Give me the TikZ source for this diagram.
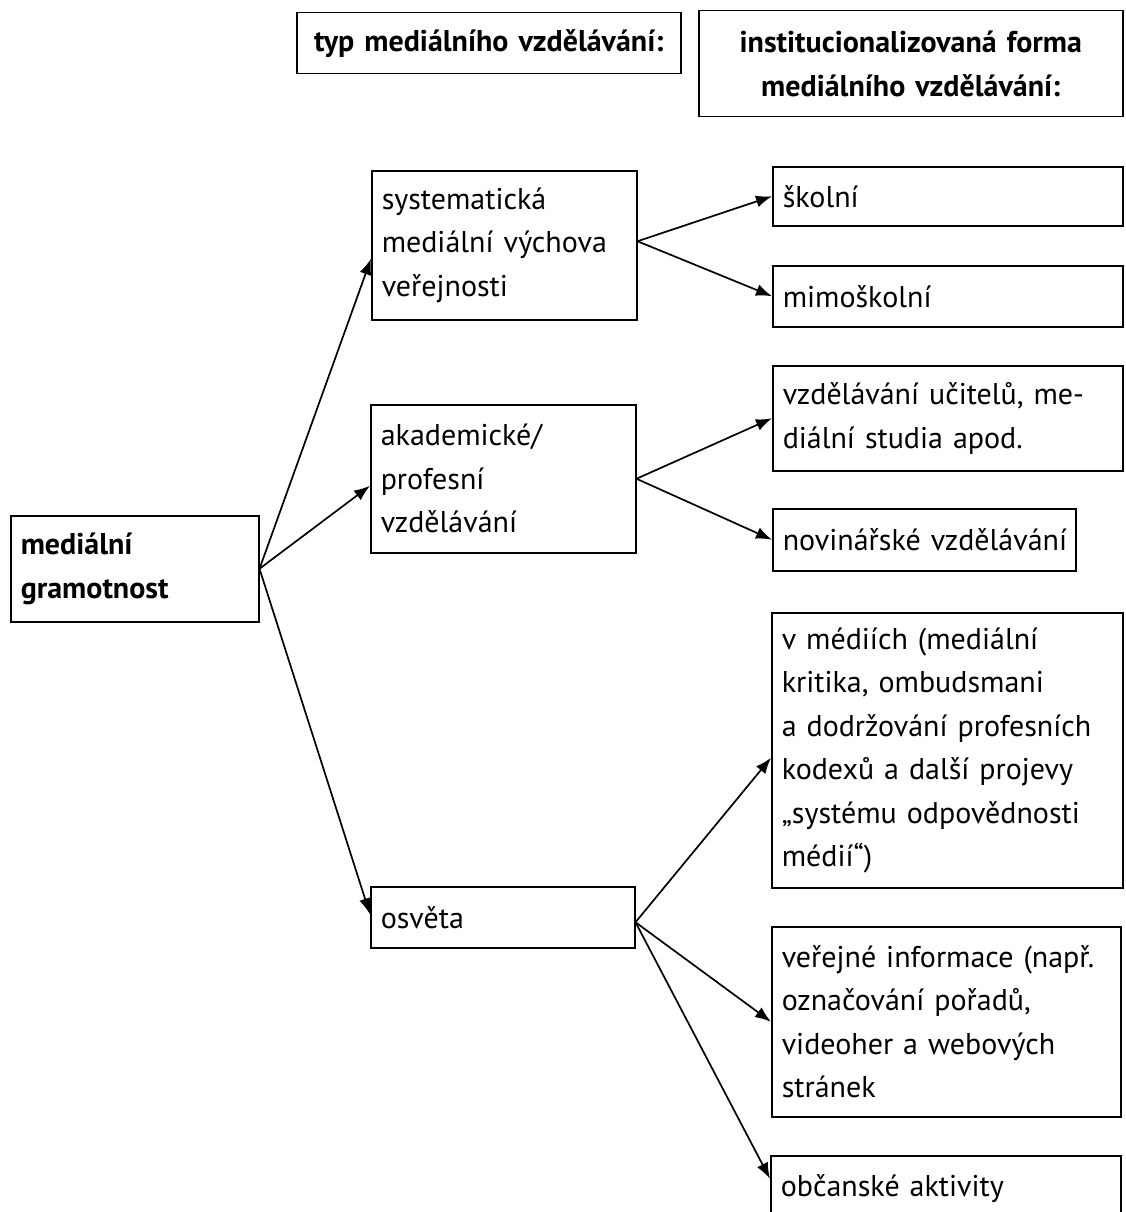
\documentclass[tikz,border=0pt]{standalone}
\usepackage{fontspec}
\setmainfont{PT Sans}
\usetikzlibrary{positioning,arrows.meta}
\tikzset{
  box/.style={rectangle, draw=black, line width=1.5pt, anchor=north west,
              inner xsep=10pt, inner ysep=0pt, align=left,
              font=\fontsize{30}{43.5}\selectfont},
  head/.style={box, align=center, font=\fontsize{30}{43.5}\selectfont\bfseries},
  arr/.style={-{Latex[length=16pt, width=12pt]}, line width=1.7pt, draw=black},
}

\begin{document}
\begin{tikzpicture}[x=1pt, y=-1pt]
    \clip (0,0) rectangle (1125,1212);
    % headings
    \node[head, text width=364pt, minimum height=61pt] (typ) at (296,12) {typ mediálního vzdělávání:};
    \node[head, text width=404pt, minimum height=106pt] (forma) at (698,10) {institucionalizovaná forma\\mediálního vzdělávání:};
    % left column
    \node[box, font=\fontsize{30}{43.5}\selectfont\bfseries, text width=228pt, minimum height=106pt] (mg) at (10,515) {mediální\\gramotnost};
    % types
    \node[box, text width=245pt, minimum height=149pt] (sys) at (371,170) {systematická\\mediální výchova\\veřejnosti};
    \node[box, text width=245pt, minimum height=148pt] (aka) at (370,404) {akademické/\\profesní\\vzdělávání};
    \node[box, text width=244pt, minimum height=61pt] (osv) at (370,886) {osvěta};
    % institutional forms
    \node[box, text width=330pt, minimum height=59pt] (skol) at (772,166) {školní};
    \node[box, text width=330pt, minimum height=61pt] (mimo) at (772,265) {mimoškolní};
    \node[box, text width=330pt, minimum height=105pt] (ucit) at (772,365) {vzdělávání učitelů, me-\\diální studia apod.};
    \node[box, inner xsep=4pt, text width=295pt, minimum height=62pt] (novi) at (772,508) {\hspace*{6pt}novinářské vzdělávání};
    \node[box, text width=331pt, minimum height=275pt] (medi) at (771,612) {v médiích (mediální\\kritika, ombudsmani\\a dodržování profesních\\kodexů a další projevy\\„systému odpovědnosti\\médií“)};
    \node[box, text width=329pt, minimum height=190pt] (vere) at (771,926) {veřejné informace (např.\\označování pořadů,\\videoher a webových\\stránek};
    \node[box, text width=330pt, minimum height=66pt] (obc) at (770,1155) {občanské aktivity};
    % connectors
    \draw[arr] (mg.east) -- ([yshift=-13.5pt]sys.west);
    \draw[arr] (mg.east) -- ([yshift=-7pt]aka.west);
    \draw[arr] (mg.east) -- ([yshift=3pt]osv.west);
    \draw[arr] ([yshift=4pt]sys.east) -- (skol.west);
    \draw[arr] ([yshift=4pt]sys.east) -- (mimo.west);
    \draw[arr] (aka.east) -- (ucit.west);
    \draw[arr] (aka.east) -- (novi.west);
    \draw[arr] ([yshift=-5pt]osv.east) -- ([yshift=-7.5pt]medi.west);
    \draw[arr] ([yshift=-5pt]osv.east) -- (vere.west);
    \draw[arr] ([yshift=-5pt]osv.east) -- ([yshift=10pt]obc.west);
\end{tikzpicture}
\end{document}
